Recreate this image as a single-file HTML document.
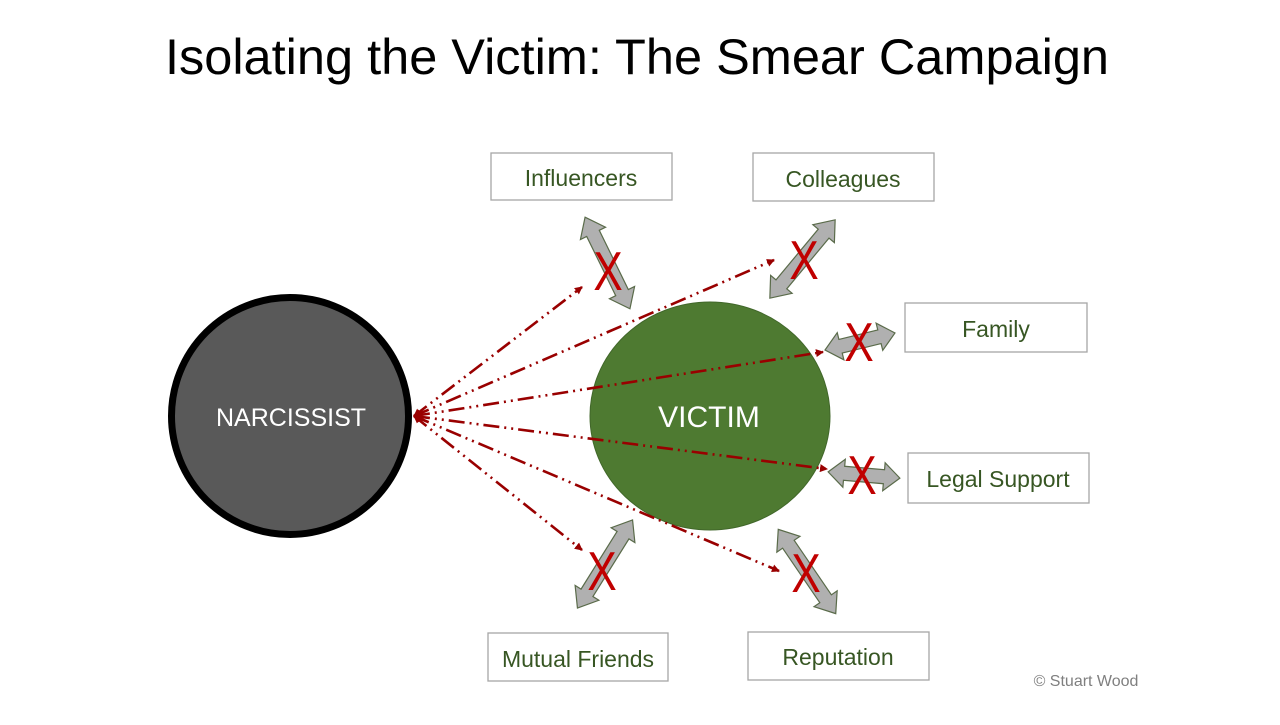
<!DOCTYPE html>
<html><head><meta charset="utf-8"><style>
html,body{margin:0;padding:0;background:#fff;}
body{width:1280px;height:720px;overflow:hidden;}
text{font-family:"Liberation Sans",sans-serif;}
</style></head><body>
<svg width="1280" height="720" viewBox="0 0 1280 720" xmlns="http://www.w3.org/2000/svg">
<defs>
<marker id="ah" markerWidth="8" markerHeight="8" refX="7" refY="4" orient="auto-start-reverse" markerUnits="userSpaceOnUse">
<path d="M0,0 L8,4 L0,8 Z" fill="#990000"/>
</marker>
</defs>
<text x="637" y="74" font-size="50.5" text-anchor="middle" fill="#000">Isolating the Victim: The Smear Campaign</text>

<g fill="#fff" stroke="#a6a6a6" stroke-width="1.3">
<rect x="491" y="153" width="181" height="47"/>
<rect x="753" y="153" width="181" height="48"/>
<rect x="905" y="303" width="182" height="49"/>
<rect x="908" y="453" width="181" height="50"/>
<rect x="488" y="633" width="180" height="48"/>
<rect x="748" y="632" width="181" height="48"/>
</g>
<g fill="#375623" font-size="23" text-anchor="middle">
<text x="581" y="186">Influencers</text>
<text x="843" y="187">Colleagues</text>
<text x="996" y="337">Family</text>
<text x="998" y="487">Legal Support</text>
<text x="578" y="667">Mutual Friends</text>
<text x="838" y="665">Reputation</text>
</g>

<circle cx="290" cy="416" r="118.5" fill="#595959" stroke="#000" stroke-width="7"/>
<text x="291" y="426" font-size="25" fill="#fff" text-anchor="middle">NARCISSIST</text>
<ellipse cx="710" cy="416" rx="120" ry="114" fill="#4e7a31" stroke="#41672a" stroke-width="1"/>
<text x="709" y="427" font-size="30" fill="#fff" text-anchor="middle">VICTIM</text>

<g stroke="#990000" stroke-width="2.6" fill="none" stroke-dasharray="16,5,2,5,2,5" marker-start="url(#ah)" marker-end="url(#ah)">
<line x1="414" y1="416" x2="582" y2="287"/>
<line x1="414" y1="416" x2="774" y2="260"/>
<line x1="414" y1="416" x2="823" y2="352"/>
<line x1="414" y1="416" x2="827" y2="469"/>
<line x1="414" y1="416" x2="582" y2="550"/>
<line x1="414" y1="416" x2="779" y2="571"/>
</g>

<g fill="#b0b0b0" stroke="#5a6b4a" stroke-width="1.2">
<polygon transform="translate(607.5,263) rotate(63.9)" points="-51,0 -33,-14 -33,-7 33,-7 33,-14 51,0 33,14 33,7 -33,7 -33,14"/>
<polygon transform="translate(802.5,259) rotate(129.8)" points="-51,0 -33,-14 -33,-7 33,-7 33,-14 51,0 33,14 33,7 -33,7 -33,14"/>
<polygon transform="translate(860,341.5) rotate(-13.7)" points="-36,0 -20,-14 -20,-7 20,-7 20,-14 36,0 20,14 20,7 -20,7 -20,14"/>
<polygon transform="translate(864,475) rotate(5)" points="-36,0 -20,-14 -20,-7 20,-7 20,-14 36,0 20,14 20,7 -20,7 -20,14"/>
<polygon transform="translate(605,564) rotate(122)" points="-52,0 -34,-14 -34,-7 34,-7 34,-14 52,0 34,14 34,7 -34,7 -34,14"/>
<polygon transform="translate(807,571.5) rotate(55.7)" points="-51,0 -33,-14 -33,-7 33,-7 33,-14 51,0 33,14 33,7 -33,7 -33,14"/>
</g>

<g fill="#c00000" font-size="55" text-anchor="middle">
<text transform="translate(608,290) scale(0.8,1)">X</text>
<text transform="translate(804,279) scale(0.8,1)">X</text>
<text transform="translate(859,361) scale(0.8,1)">X</text>
<text transform="translate(862,494) scale(0.8,1)">X</text>
<text transform="translate(602,590) scale(0.8,1)">X</text>
<text transform="translate(806,592) scale(0.8,1)">X</text>
</g>

<text x="1086" y="686" font-size="16" fill="#7f7f7f" text-anchor="middle">© Stuart Wood</text>
</svg>
</body></html>
